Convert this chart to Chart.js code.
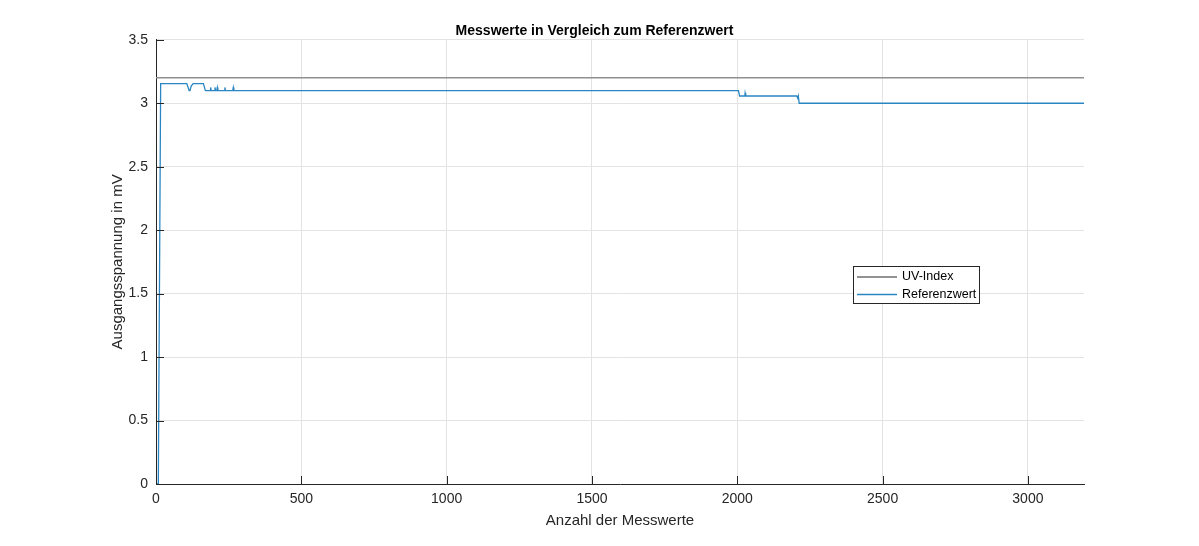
<!DOCTYPE html>
<html>
<head>
<meta charset="utf-8">
<script src="https://cdn.jsdelivr.net/npm/chart.js@4"></script>
<style>
  html, body { margin: 0; padding: 0; background: #fff; }
  #wrap { width: 1199px; height: 546px; position: relative; }
</style>
</head>
<body>
<div id="wrap"><canvas id="mess-chart"></canvas></div>
<script>
// UV-Index (konstant)
const uvX = [0, 3193];
const uvY = [3.2, 3.2];

// Referenzwert
const refX = [0, 8, 16, 106, 114, 117, 121, 128, 163, 170, 186, 188, 190, 201, 203, 205, 209, 211, 213,
    235, 237, 239, 264, 266, 268, 2004, 2008, 2026, 2027, 2029, 2205, 2208, 2210, 2213, 3193];
const refY = [0, 0, 3.155, 3.155, 3.10, 3.10, 3.135, 3.155, 3.155, 3.10, 3.10, 3.125, 3.10, 3.10, 3.125, 3.10, 3.10, 3.125, 3.10,
    3.10, 3.125, 3.10, 3.10, 3.125, 3.10, 3.10, 3.057, 3.057, 3.08, 3.057, 3.057, 3.04, 3.057, 3.0, 3.0];

const xTicks = [0, 500, 1000, 1500, 2000, 2500, 3000];
const yTicks = [0, 0.5, 1, 1.5, 2, 2.5, 3, 3.5];

function toPoints(xs, ys) {
    return xs.map((x, i) => ({ x: x, y: ys[i] }));
}

Chart.defaults.font.family = '"Liberation Sans", Arial, sans-serif';
Chart.defaults.color = '#262626';

// kleine Striche nach innen, wie bei MATLAB
const innerTicks = {
    id: 'innerTicks',
    afterDatasetsDraw(chart) {
        const ctx = chart.ctx;
        const xs = chart.scales.x, ys = chart.scales.y;
        const area = chart.chartArea;
        ctx.save();
        ctx.strokeStyle = '#262626';
        ctx.lineWidth = 1;
        ctx.beginPath();
        yTicks.forEach(v => {
            const py = Math.round(ys.getPixelForValue(v)) + 0.5;
            ctx.moveTo(area.left, py);
            ctx.lineTo(area.left + 8, py);
        });
        xTicks.forEach(v => {
            const px = Math.round(xs.getPixelForValue(v)) + 0.5;
            ctx.moveTo(px, area.bottom);
            ctx.lineTo(px, area.bottom - 8);
        });
        ctx.stroke();
        ctx.restore();
    }
};

// Legende innerhalb der Achsen
const boxLegend = {
    id: 'boxLegend',
    afterDraw(chart) {
        const ctx = chart.ctx;
        const left = 853, top = 266, w = 127, h = 38;
        ctx.save();
        ctx.fillStyle = '#ffffff';
        ctx.fillRect(left, top, w, h);
        ctx.strokeStyle = '#262626';
        ctx.lineWidth = 1;
        ctx.strokeRect(left + 0.5, top + 0.5, w - 1, h - 1);
        ctx.font = '12.5px "Liberation Sans", Arial, sans-serif';
        ctx.textBaseline = 'middle';
        ctx.fillStyle = '#000000';
        chart.data.datasets.forEach((ds, i) => {
            const y = top + 11 + i * 17.5;
            ctx.strokeStyle = ds.legendColor;
            ctx.lineWidth = ds.borderWidth;
            ctx.beginPath();
            ctx.moveTo(left + 4, y);
            ctx.lineTo(left + 44, y);
            ctx.stroke();
            ctx.fillText(ds.label, left + 49, y);
        });
        ctx.restore();
    }
};

const ctx = document.getElementById('mess-chart').getContext('2d');

new Chart(ctx, {
    type: 'line',
    data: {
        datasets: [
            {
                label: 'UV-Index',
                data: toPoints(uvX, uvY),
                borderColor: '#8f8f8f',
                legendColor: '#6e6e6e',
                borderWidth: 1.5,
                pointRadius: 0,
                tension: 0
            },
            {
                label: 'Referenzwert',
                data: toPoints(refX, refY),
                borderColor: '#2a86c2',
                legendColor: '#2a86c2',
                borderWidth: 1.3,
                pointRadius: 0,
                tension: 0
            }
        ]
    },
    options: {
        responsive: true,
        maintainAspectRatio: false,
        animation: false,
        layout: {
            padding: { left: 105, right: 115, top: 0, bottom: 12 }
        },
        scales: {
            x: {
                type: 'linear',
                min: 0,
                max: 3193,
                afterFit: function(scale) { scale.height = 50; },
                afterBuildTicks: function(scale) {
                    scale.ticks = xTicks.map(v => ({ value: v }));
                },
                ticks: {
                    padding: 7,
                    font: { size: 14 },
                    color: '#262626',
                    callback: function(value) { return String(value); }
                },
                grid: { color: '#e3e3e3', drawTicks: false },
                border: { display: true, color: '#262626', width: 1 },
                title: {
                    display: true,
                    text: 'Anzahl der Messwerte',
                    font: { size: 15 },
                    color: '#262626'
                }
            },
            y: {
                type: 'linear',
                min: 0,
                max: 3.5,
                afterFit: function(scale) { scale.width = 51; },
                afterBuildTicks: function(scale) {
                    scale.ticks = yTicks.map(v => ({ value: v }));
                },
                ticks: {
                    padding: 8,
                    font: { size: 14 },
                    color: '#262626',
                    callback: function(value) { return String(value); }
                },
                grid: { color: '#e3e3e3', drawTicks: false },
                border: { display: true, color: '#262626', width: 1 },
                title: {
                    display: true,
                    text: 'Ausgangsspannung in mV',
                    font: { size: 15 },
                    color: '#262626'
                }
            }
        },
        plugins: {
            legend: { display: false },
            tooltip: { enabled: false },
            title: {
                display: true,
                text: 'Messwerte in Vergleich zum Referenzwert',
                font: { size: 14, weight: 'bold' },
                color: '#000000',
                padding: { top: 23, bottom: 0 }
            }
        }
    },
    plugins: [innerTicks, boxLegend]
});
</script>
</body>
</html>
